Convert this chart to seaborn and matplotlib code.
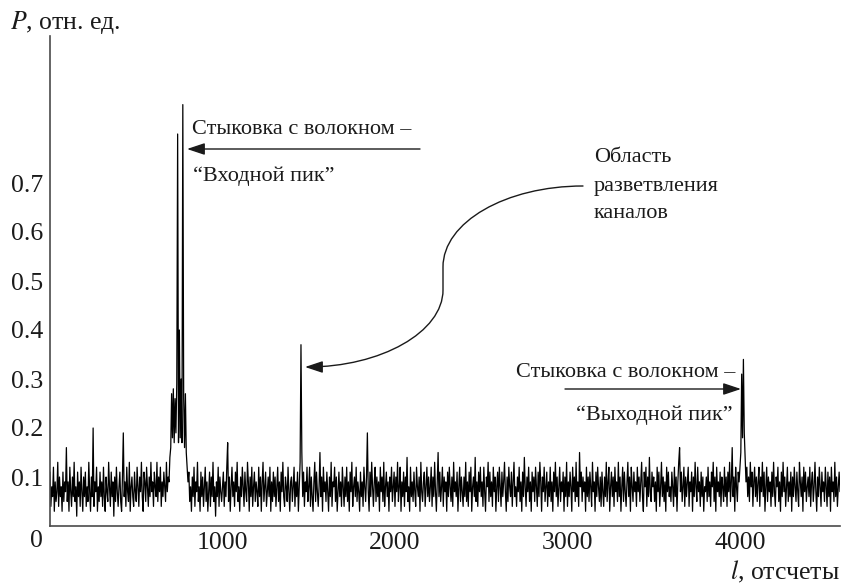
import numpy as np
import pandas as pd
import matplotlib
matplotlib.use("Agg")
import matplotlib.pyplot as plt
import seaborn as sns
from matplotlib.path import Path
from matplotlib.patches import FancyArrowPatch
from matplotlib.transforms import IdentityTransform

# ---------------- data ----------------
sample_step = 5  # one value every 5 samples
# P in hundredths (relative units), rows of 100 samples
p_hundredths = [
    11, 4, 8, 6, 12, 3, 9, 5, 7, 13, 4, 10, 6, 8, 3, 11, 5, 9, 7, 16,
    5, 9, 3, 12, 7, 4, 10, 6, 13, 5, 8, 2, 11, 6, 9, 4, 12, 7, 3, 10,
    6, 11, 4, 8, 5, 13, 7, 3, 10, 6, 20, 4, 9, 7, 12, 3, 8, 5, 11, 6,
    9, 4, 12, 6, 3, 10, 7, 5, 13, 8, 4, 11, 6, 9, 2, 10, 5, 12, 7, 4,
    8, 11, 5, 3, 10, 19, 6, 9, 4, 12, 7, 5, 13, 3, 8, 10, 6, 4, 11, 7,
    5, 12, 8, 4, 10, 7, 13, 6, 3, 11, 9, 5, 12, 8, 4, 10, 6, 13, 7, 9,
    4, 11, 8, 6, 13, 5, 10, 7, 12, 4, 9, 6, 11, 8, 5, 13, 7, 10, 9, 14,
    16, 27, 18, 28, 17, 26, 19, 29, 80, 17, 40, 18, 30, 17, 86, 26, 16, 27, 15, 12,
    9, 11, 5, 8, 3, 10, 6, 12, 4, 9, 7, 13, 5, 8, 3, 11, 6, 10, 4, 8,
    12, 5, 9, 3, 7, 11, 4, 10, 6, 13, 5, 8, 2, 9, 6, 12, 4, 10, 7, 5,
    8, 11, 4, 9, 6, 12, 17, 5, 10, 3, 8, 12, 6, 9, 4, 11, 7, 13, 5, 8,
    3, 10, 6, 12, 8, 4, 11, 7, 5, 13, 9, 3, 10, 6, 12, 4, 8, 11, 5, 9,
    7, 4, 12, 6, 10, 3, 9, 13, 5, 8, 11, 4, 7, 10, 6, 12, 3, 9, 5, 11,
    6, 10, 4, 8, 12, 5, 9, 3, 11, 7, 13, 6, 4, 10, 8, 5, 12, 7, 3, 9,
    10, 5, 8, 12, 4, 9, 6, 11, 3, 8, 13, 37, 15, 6, 11, 4, 9, 7, 12, 5,
    8, 12, 4, 10, 6, 3, 9, 13, 5, 11, 7, 4, 8, 15, 6, 10, 3, 12, 7, 9,
    5, 11, 7, 3, 10, 6, 13, 4, 9, 8, 12, 5, 10, 3, 7, 11, 6, 9, 4, 12,
    8, 4, 10, 6, 12, 5, 9, 3, 11, 7, 13, 4, 8, 10, 6, 12, 5, 9, 7, 3,
    11, 6, 9, 4, 12, 8, 5, 10, 19, 7, 3, 11, 6, 13, 8, 4, 9, 12, 5, 10,
    6, 9, 3, 12, 7, 10, 5, 13, 4, 8, 11, 6, 9, 3, 10, 7, 12, 5, 8, 11,
    4, 10, 7, 13, 5, 8, 12, 3, 9, 6, 11, 4, 10, 7, 14, 5, 8, 3, 12, 6,
    9, 5, 11, 7, 4, 12, 8, 6, 10, 3, 13, 7, 5, 9, 11, 4, 8, 12, 6, 10,
    5, 8, 12, 4, 10, 6, 13, 7, 3, 9, 15, 6, 11, 5, 8, 12, 4, 10, 7, 9,
    3, 11, 6, 12, 8, 5, 10, 4, 13, 7, 9, 6, 11, 3, 8, 12, 5, 10, 7, 4,
    10, 6, 13, 5, 9, 4, 11, 7, 12, 3, 8, 10, 6, 14, 5, 9, 4, 11, 7, 12,
    6, 9, 4, 12, 7, 3, 10, 8, 13, 5, 11, 6, 9, 4, 12, 7, 10, 3, 8, 11,
    5, 12, 8, 4, 11, 6, 9, 13, 7, 3, 10, 5, 12, 8, 6, 11, 4, 9, 13, 6,
    8, 4, 10, 7, 12, 5, 9, 3, 11, 6, 14, 8, 4, 10, 7, 12, 5, 9, 3, 11,
    7, 10, 5, 12, 8, 4, 11, 6, 13, 9, 3, 10, 7, 12, 5, 8, 11, 4, 9, 6,
    12, 5, 9, 3, 11, 7, 13, 6, 10, 4, 8, 12, 5, 9, 7, 11, 3, 10, 6, 13,
    4, 9, 6, 11, 8, 3, 12, 7, 10, 5, 13, 6, 9, 4, 15, 8, 11, 5, 10, 7,
    9, 3, 12, 6, 10, 5, 11, 8, 4, 13, 7, 9, 3, 11, 6, 12, 8, 5, 10, 4,
    11, 7, 4, 10, 6, 13, 5, 9, 12, 3, 8, 11, 6, 10, 4, 12, 7, 9, 5, 13,
    6, 10, 3, 8, 12, 5, 11, 7, 4, 9, 13, 6, 10, 3, 12, 8, 5, 11, 7, 9,
    4, 12, 7, 10, 5, 9, 13, 6, 3, 11, 8, 12, 4, 10, 6, 14, 7, 5, 11, 8,
    10, 5, 9, 3, 12, 7, 11, 4, 8, 13, 6, 10, 5, 9, 3, 12, 7, 11, 6, 8,
    5, 11, 8, 4, 12, 6, 10, 3, 9, 13, 16, 7, 11, 5, 8, 12, 4, 10, 6, 9,
    12, 4, 9, 7, 11, 3, 10, 6, 13, 8, 5, 12, 7, 9, 4, 11, 6, 10, 3, 8,
    7, 10, 5, 12, 6, 9, 4, 11, 8, 13, 5, 10, 3, 12, 7, 9, 6, 11, 4, 10,
    8, 5, 12, 6, 10, 4, 11, 7, 13, 5, 9, 16, 6, 10, 3, 12, 8, 5, 11, 9,
    12, 15, 31, 18, 34, 19, 14, 9, 12, 6, 10, 5, 13, 8, 11, 4, 9, 12, 6, 10,
    5, 9, 12, 4, 10, 7, 13, 6, 11, 3, 8, 12, 5, 10, 7, 9, 4, 11, 6, 13,
    7, 4, 10, 8, 12, 5, 9, 3, 11, 6, 13, 7, 10, 4, 8, 12, 5, 9, 6, 11,
    3, 10, 6, 12, 8, 5, 11, 7, 4, 13, 9, 6, 10, 3, 12, 7, 11, 5, 8, 10,
    6, 12, 4, 9, 11, 5, 8, 13, 7, 3, 10, 6, 12, 8, 4, 11, 7, 9, 5, 12,
    8, 4, 11, 6, 10, 3, 12, 7, 9, 5, 13, 6, 10, 4, 8, 11, 7,
]
x_tick_values = [1000, 2000, 3000, 4000]
y_tick_values = [0.1, 0.2, 0.3, 0.4, 0.5, 0.6, 0.7]
y_tick_labels = ["0.1", "0.2", "0.3", "0.4", "0.5", "0.6", "0.7"]

# ---------------- style ----------------
sns.set_theme(style="white")
plt.rcParams['font.family'] = ['Liberation Serif', 'DejaVu Serif']
plt.rcParams['mathtext.fontset'] = 'stix'

W, H = 842, 585
fig = plt.figure(figsize=(W / 100, H / 100), dpi=100)
ax = fig.add_axes([50 / W, 59 / H, 790 / W, 490 / H])

df = pd.DataFrame({
    "l": np.arange(len(p_hundredths)) * sample_step,
    "P": np.array(p_hundredths, dtype=float) / 100.0,
})
sns.lineplot(data=df, x="l", y="P", ax=ax, color="black", linewidth=0.9,
             estimator=None, sort=False)

ax.set_xlim(0, (len(p_hundredths) - 1) * sample_step)
ax.set_ylim(0, 1.0)
ax.set_xlabel("")
ax.set_ylabel("")
ax.set_xticks(x_tick_values)
ax.set_xticklabels([str(v) for v in x_tick_values])
ax.set_yticks(y_tick_values)
ax.set_yticklabels(y_tick_labels)
for s in ["top", "right"]:
    ax.spines[s].set_visible(False)
for s in ["left", "bottom"]:
    ax.spines[s].set_color("#4a4a4a")
    ax.spines[s].set_linewidth(1.2)
ax.tick_params(axis="both", direction="in", length=7, width=1.0,
               color="#4a4a4a", labelsize=18.5, labelcolor="#1a1a1a")
ax.tick_params(axis="y", pad=5)
ax.tick_params(axis="x", pad=4)

def fy(py):
    return 1 - py / H

txt = dict(color="#1a1a1a")
# origin label and axis titles
fig.text(36 / W, fy(541), "0", ha="center", va="center", fontsize=18.5, **txt)
fig.text(10 / W, fy(29), r"$P$, отн. ед.", ha="left", va="baseline", fontsize=18.5, **txt)
fig.text(840 / W, fy(579), r"$l$, отсчеты", ha="right", va="baseline", fontsize=18.5, **txt)

afs = 16
# input peak annotation
fig.text(192 / W, fy(134), "Стыковка с волокном –", ha="left", va="baseline", fontsize=afs, **txt)
fig.text(193 / W, fy(181), "“Входной пик”", ha="left", va="baseline", fontsize=afs, **txt)
# branching region
fig.text(594 / W, fy(162), "Область", ha="left", va="baseline", fontsize=afs, **txt)
fig.text(594 / W, fy(191), "разветвления", ha="left", va="baseline", fontsize=afs, **txt)
fig.text(594 / W, fy(218), "каналов", ha="left", va="baseline", fontsize=afs, **txt)
# output peak annotation
fig.text(735 / W, fy(377), "Стыковка с волокном –", ha="right", va="baseline", fontsize=afs, **txt)
fig.text(733 / W, fy(420), "“Выходной пик”", ha="right", va="baseline", fontsize=afs, **txt)

arrow_style = "-|>,head_length=0.9,head_width=0.3"
a1 = FancyArrowPatch((420, H - 149), (187, H - 149), arrowstyle=arrow_style,
                     mutation_scale=12, color="#1a1a1a", linewidth=1.0,
                     transform=IdentityTransform(), shrinkA=0, shrinkB=0)
fig.add_artist(a1)
a2 = FancyArrowPatch((565, H - 389), (741, H - 389), arrowstyle=arrow_style,
                     mutation_scale=12, color="#1a1a1a", linewidth=1.0,
                     transform=IdentityTransform(), shrinkA=0, shrinkB=0)
fig.add_artist(a2)

verts = [
    (583, H - 186), (506, H - 186), (443, H - 222), (443, H - 267),
    (443, H - 290),
    (443, H - 332), (381, H - 367), (305, H - 367),
]
codes = [Path.MOVETO, Path.CURVE4, Path.CURVE4, Path.CURVE4,
         Path.LINETO,
         Path.CURVE4, Path.CURVE4, Path.CURVE4]
a3 = FancyArrowPatch(path=Path(verts, codes), arrowstyle=arrow_style,
                     mutation_scale=12, color="#1a1a1a", linewidth=1.0,
                     transform=IdentityTransform())
fig.add_artist(a3)

fig.savefig("out.png", dpi=100)
